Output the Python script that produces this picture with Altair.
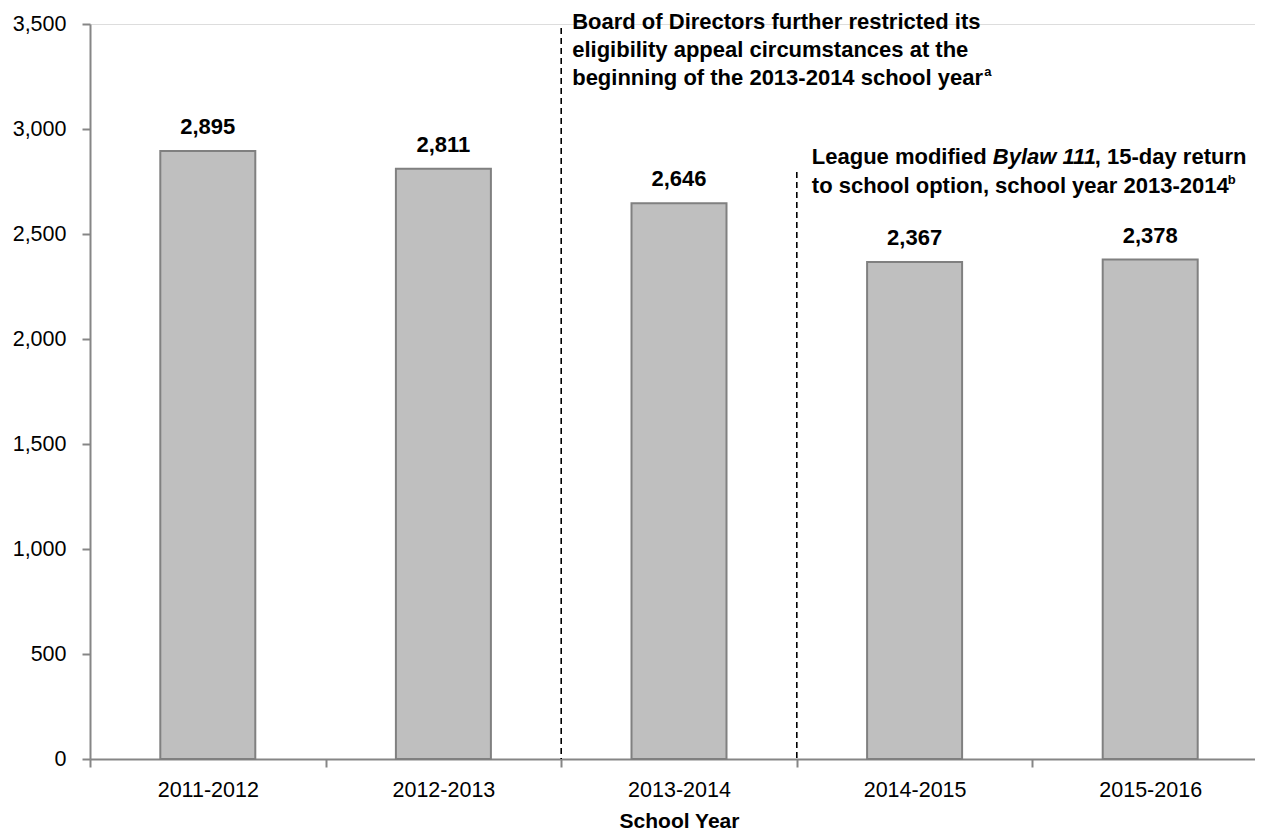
import altair as alt
import pandas as pd

years = ["2011-2012", "2012-2013", "2013-2014", "2014-2015", "2015-2016"]
counts = [2895, 2811, 2646, 2367, 2378]
labels = ["2,895", "2,811", "2,646", "2,367", "2,378"]

# event markers: category whose left boundary carries the dashed line, and its top value
event_years = ["2013-2014", "2014-2015"]
event_tops = [3481, 2795]

FONT = "Liberation Sans, Arial, sans-serif"

df = pd.DataFrame({"year": years, "count": counts, "label": labels})
ev = pd.DataFrame({"year": event_years, "top": event_tops})

xscale = alt.Scale(domain=years, paddingInner=0, paddingOuter=0, range=[0, 1178])
yscale = alt.Scale(domain=[0, 3500])

xenc = alt.X("year:N", scale=xscale, sort=years,
             axis=alt.Axis(title="School Year", labelAngle=0, tickBand="extent",
                           tickSize=8, labelPadding=12, labelFontSize=21.5,
                           titleFontSize=21, titleFontWeight="bold", titlePadding=10,
                           labelFont=FONT, titleFont=FONT,
                           domainColor="#868686", tickColor="#868686",
                           labelColor="black", titleColor="black", domainWidth=2, tickWidth=2))

base = alt.Chart(df)

bars = base.mark_bar(size=95, color="#bfbfbf", stroke="#808080", strokeWidth=2).encode(
    x=xenc,
    y=alt.Y("count:Q", scale=yscale,
            axis=alt.Axis(title=None, values=list(range(0, 3501, 500)), format=",d",
                          tickSize=8, labelPadding=16, labelFontSize=21.5, labelFont=FONT,
                          domainColor="#868686", tickColor="#868686", labelColor="black",
                          grid=False, domainWidth=2, tickWidth=2)),
)

values = base.mark_text(baseline="bottom", dy=-12, fontSize=22, fontWeight="bold",
                        font=FONT, color="black").encode(
    x=alt.X("year:N", scale=xscale, sort=years),
    y=alt.Y("count:Q", scale=yscale),
    text="label:N",
)

rules = alt.Chart(ev).mark_rule(color="black", strokeWidth=1.6, strokeDash=[6, 4]).encode(
    x=alt.X("year:N", scale=xscale, sort=years, bandPosition=0),
    y=alt.Y("top:Q", scale=yscale),
    y2=alt.datum(0),
)


def note(year, v, text, dx, dy=0, size=22, style="normal"):
    return alt.Chart(pd.DataFrame({"year": [year], "v": [v], "t": [text]})).mark_text(
        align="left", baseline="middle", dx=dx, dy=dy, fontSize=size, fontWeight="bold",
        fontStyle=style, font=FONT, lineHeight=28, color="black").encode(
        x=alt.X("year:N", scale=xscale, sort=years, bandPosition=0),
        y=alt.Y("v:Q", scale=yscale),
        text="t",
    )


ann1 = note("2013-2014", 3510,
            ["Board of Directors further restricted its",
             "eligibility appeal circumstances at the",
             "beginning of the 2013-2014 school year"], dx=11)
sup_a = note("2013-2014", 3510, "a", dx=423, dy=50, size=13)

ann2a = note("2014-2015", 2867, "League modified ", dx=15)
ann2b = note("2014-2015", 2867, "Bylaw 111", dx=196, style="italic")
ann2c = note("2014-2015", 2867, ", 15-day return", dx=298)
ann2d = note("2014-2015", 2867, "to school option, school year 2013-2014", dx=15, dy=29)
sup_b = note("2014-2015", 2867, "b", dx=431, dy=23, size=13)

chart = alt.layer(bars, values, rules, ann1, sup_a, ann2a, ann2b, ann2c, ann2d, sup_b).properties(
    width=1165, height=735,
    autosize=alt.AutoSizeParams(type="none"),
    padding={"left": 82, "top": 16, "right": 0, "bottom": 73},
).configure_view(stroke=None).configure(font=FONT)

chart.save("out.html", embed_options={"renderer": "svg", "actions": False})
